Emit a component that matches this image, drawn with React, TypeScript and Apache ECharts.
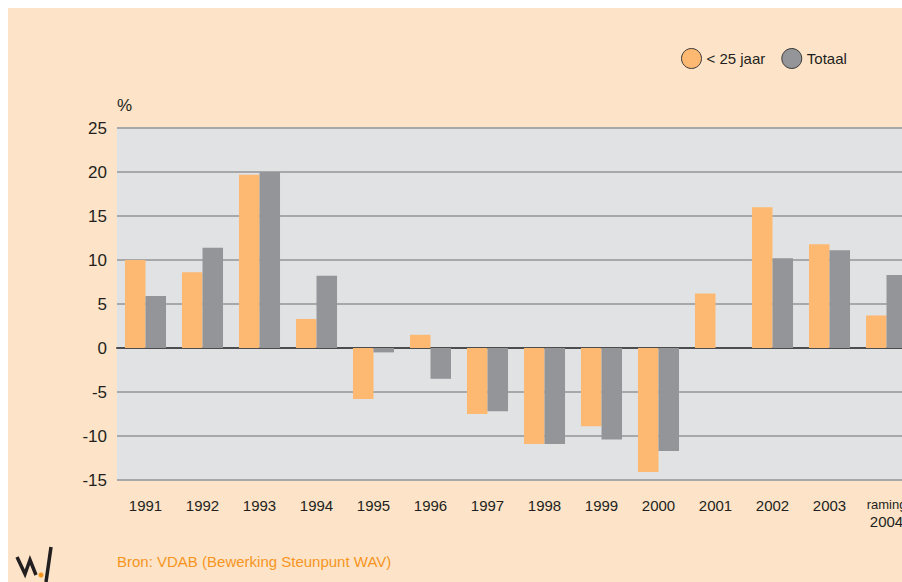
import React, { useEffect, useRef } from "react";
import * as echarts from "echarts";

const categories = ["1991", "1992", "1993", "1994", "1995", "1996", "1997", "1998", "1999", "2000", "2001", "2002", "2003", "raming\n2004"];
const youngValues = [10.0, 8.6, 19.7, 3.3, -5.8, 1.5, -7.5, -10.9, -8.9, -14.1, 6.2, 16.0, 11.8, 3.7];
const totalValues = [5.9, 11.4, 20.0, 8.2, -0.5, -3.5, -7.2, -10.9, -10.4, -11.7, null, 10.2, 11.1, 8.3];
const seriesNames = ["< 25 jaar", "Totaal"];
const yTicks = { min: -15, max: 25, interval: 5 };
const sourceText = "Bron: VDAB (Bewerking Steunpunt WAV)";

const FONT = "'Liberation Sans', Arial, sans-serif";

export default function App() {
  const ref = useRef<HTMLDivElement>(null);
  useEffect(() => {
    if (!ref.current) return;
    const chart = echarts.init(ref.current, null, { renderer: "svg" });
    chart.setOption({
      animation: false,
      backgroundColor: "#FDE4C8",
      textStyle: { fontFamily: FONT },
      grid: {
        left: 109,
        right: 0,
        top: 120,
        bottom: 102,
        show: true,
        backgroundColor: "#E1E2E4",
        borderWidth: 0,
      },
      legend: {
        left: 668,
        top: 35,
        itemWidth: 20,
        itemHeight: 20,
        itemGap: 16,
        icon: "circle",
        itemStyle: { borderColor: "#3a3a3a", borderWidth: 1 },
        textStyle: { fontSize: 15, color: "#231F20", fontFamily: FONT },
        data: seriesNames,
      },
      xAxis: {
        type: "category",
        data: categories,
        axisLine: { onZero: true, lineStyle: { color: "#4D4D4F", width: 2 } },
        axisTick: { show: false },
        axisLabel: {
          interval: 0,
          margin: 16,
          color: "#231F20",
          fontSize: 15,
          fontFamily: FONT,
          formatter: (v: string) => {
            if (v.indexOf("\n") >= 0) {
              const parts = v.split("\n");
              return "{s|" + parts[0] + "}\n{b|" + parts[1] + "}";
            }
            return "{b|" + v + "}";
          },
          rich: {
            s: { fontSize: 13, lineHeight: 16, color: "#231F20", fontFamily: FONT },
            b: { fontSize: 15, lineHeight: 18, color: "#231F20", fontFamily: FONT },
          },
        },
      },
      yAxis: {
        type: "value",
        min: yTicks.min,
        max: yTicks.max,
        interval: yTicks.interval,
        axisLine: { show: false },
        axisTick: { show: false },
        axisLabel: { color: "#231F20", fontSize: 17, margin: 10, fontFamily: FONT },
        splitLine: { lineStyle: { color: "#A7A8AA", width: 2 } },
      },
      graphic: [
        {
          type: "text",
          left: 109,
          top: 89,
          style: { text: "%", fontSize: 17, fill: "#231F20", fontFamily: FONT },
        },
        {
          type: "text",
          left: 109,
          top: 546,
          style: { text: sourceText, fontSize: 15, fill: "#F7941D", fontFamily: FONT },
        },
        {
          type: "polyline",
          shape: { points: [[9, 549], [17, 566], [22, 552], [28, 567]] },
          style: { stroke: "#231F20", lineWidth: 3.5, fill: "none", lineJoin: "miter" },
        },
        {
          type: "line",
          shape: { x1: 38, y1: 574, x2: 43, y2: 539 },
          style: { stroke: "#231F20", lineWidth: 3.5 },
        },
        {
          type: "circle",
          shape: { cx: 33, cy: 567, r: 2.5 },
          style: { fill: "#F7941D" },
        },
      ],
      series: [
        {
          name: seriesNames[0],
          type: "bar",
          data: youngValues,
          barGap: "0%",
          barCategoryGap: "28%",
          itemStyle: { color: "#FDB971" },
        },
        {
          name: seriesNames[1],
          type: "bar",
          data: totalValues,
          barGap: "0%",
          barCategoryGap: "28%",
          itemStyle: { color: "#949599" },
        },
      ],
    });
    return () => chart.dispose();
  }, []);
  return (
    <div
      ref={ref}
      style={{ position: "fixed", left: 8, top: 8, width: 907, height: 574 }}
    />
  );
}
